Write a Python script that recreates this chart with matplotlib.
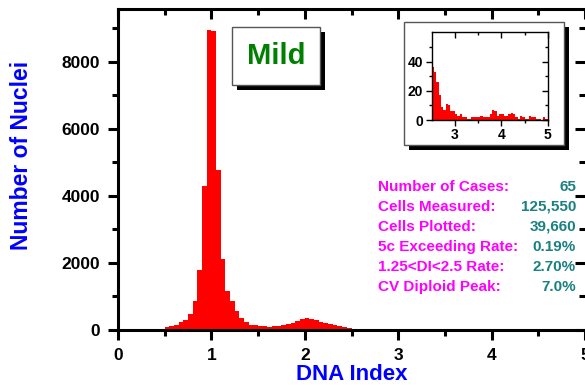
import numpy as np
import matplotlib
matplotlib.use("Agg")
import matplotlib.pyplot as plt
from matplotlib.patches import Rectangle

plt.rcParams['font.family'] = ['Liberation Sans', 'DejaVu Sans']
plt.rcParams['font.weight'] = 'bold'

# histogram counts, bins of 0.05 DI starting at 0.45
bin_start = 0.45
bin_width = 0.05
counts_main = [40, 90, 120, 150, 240, 300, 480, 850, 1800, 4290,
               8950, 8900, 4770, 2120, 1160, 860, 570, 350, 250, 160,
               140, 130, 110, 100, 110, 130, 160, 180, 220, 260,
               320, 360, 330, 290, 240, 210, 170, 140, 110, 80,
               55]
# tail 2.5 - 5.0 (also shown in the inset)
counts_tail = [36, 33, 26, 17, 9, 7, 11, 10, 6, 6,
               4, 3, 4, 2, 2, 1, 1, 2, 2, 2,
               2, 3, 2, 2, 2, 4, 7, 6, 3, 4,
               4, 3, 3, 4, 5, 4, 2, 1, 3, 2,
               1, 1, 3, 2, 2, 1, 1, 0, 2, 1]
counts = counts_main + counts_tail

stat_labels = ["Number of Cases:", "Cells Measured:", "Cells Plotted:",
               "5c Exceeding Rate:", "1.25<DI<2.5 Rate:", "CV Diploid Peak:"]
stat_values = ["65", "125,550", "39,660", "0.19%", "2.70%", "7.0%"]
grade = "Mild"

W, H = 585, 387
fig = plt.figure(figsize=(W / 100, H / 100), dpi=100)


def fx(px):
    return px / W


def fy(py):
    return 1 - py / H


def shadow_box(x0, y0, x1, y1, off=5):
    sh = Rectangle((fx(x0 + off), fy(y1 + off)), fx(x1 - x0), (y1 - y0) / H,
                   transform=fig.transFigure, facecolor='black',
                   edgecolor='none', zorder=1)
    bx = Rectangle((fx(x0), fy(y1)), fx(x1 - x0), (y1 - y0) / H,
                   transform=fig.transFigure, facecolor='white',
                   edgecolor='#555555', linewidth=1, zorder=1.1)
    fig.patches.extend([sh, bx])


# main axes
ax = fig.add_axes([fx(118), fy(330), fx(585 - 118), (330 - 9) / H])
edges = bin_start + bin_width * np.arange(len(counts))
ax.bar(edges, counts, width=bin_width, align='edge', color='red', linewidth=0)
ax.set_xlim(0, 5)
ax.set_ylim(0, 9570)
ax.set_xticks(np.arange(0, 6, 1))
ax.set_xticks(np.arange(0.5, 5, 1), minor=True)
ax.set_yticks(np.arange(0, 9000, 2000))
ax.set_yticks(np.arange(1000, 10000, 2000), minor=True)
for s in ax.spines.values():
    s.set_linewidth(2.2)
ax.spines['right'].set_visible(False)
ax.tick_params(which='both', width=2.2, labelsize=12.5)
ax.tick_params(which='major', length=7, pad=6)
ax.tick_params(which='minor', length=4)
ax.tick_params(which='both', top=True, right=True, direction='out')
# top / right ticks point inward
for t in ax.xaxis.get_major_ticks() + ax.xaxis.get_minor_ticks():
    t.tick2line.set_marker(3)
for t in ax.yaxis.get_major_ticks() + ax.yaxis.get_minor_ticks():
    t.tick2line.set_marker(0)

ax.set_xlabel("DNA Index", color='blue', fontsize=16, fontweight='bold')
ax.set_ylabel("Number of Nuclei", color='blue', fontsize=16.5, fontweight='bold')
ax.xaxis.set_label_coords(0.5, -0.105)
ax.xaxis.label.set_va('top')
ax.yaxis.set_label_coords((33 - 118) / 467, 0.545)

# grade box
shadow_box(231.7, 26.7, 320, 85)
fig.text(fx(276), fy(56), grade, color='#008000', fontsize=21,
         fontweight='bold', ha='center', va='center', zorder=2)

# stats
for i, (lab, val) in enumerate(zip(stat_labels, stat_values)):
    y = fy(186.7 + 20.1 * i)
    fig.text(fx(378), y, lab, color='#ff00ff', fontsize=11, ha='left',
             va='center', fontweight='bold')
    fig.text(fx(576), y, val, color='#1a8080', fontsize=11, ha='right',
             va='center', fontweight='bold')

# inset
shadow_box(404.3, 21.7, 564.3, 145)
axi = fig.add_axes([fx(431.7), fy(120), fx(547.7 - 431.7), (120 - 32.3) / H])
axi.set_zorder(3)
tail_edges = bin_start + bin_width * (len(counts_main) + np.arange(len(counts_tail)))
axi.bar(tail_edges, counts_tail, width=bin_width, align='edge', color='red',
        linewidth=0)
axi.set_xlim(2.5, 5)
axi.set_ylim(0, 60)
axi.set_xticks([3, 4, 5])
axi.set_xticks([3.5, 4.5], minor=True)
axi.set_yticks([0, 20, 40])
axi.set_yticks([10, 30, 50], minor=True)
for s in axi.spines.values():
    s.set_linewidth(1)
axi.tick_params(which='both', width=1, labelsize=10, top=True, right=True,
                direction='out')
axi.tick_params(which='major', length=4, pad=2)
axi.tick_params(which='minor', length=2.5)
for t in axi.xaxis.get_major_ticks() + axi.xaxis.get_minor_ticks():
    t.tick2line.set_marker(3)
for t in axi.yaxis.get_major_ticks() + axi.yaxis.get_minor_ticks():
    t.tick2line.set_marker(0)

fig.savefig("out.png", dpi=100)
